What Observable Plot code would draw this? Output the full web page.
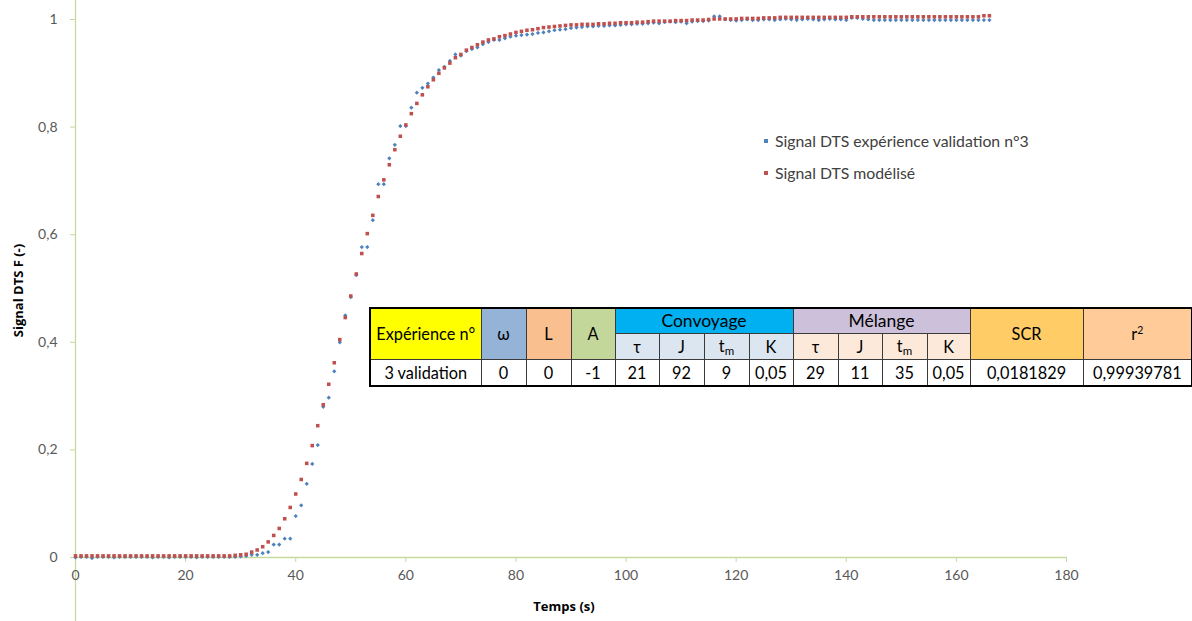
<!DOCTYPE html>
<html><head><meta charset="utf-8">
<script src="https://cdn.jsdelivr.net/npm/d3@7"></script>
<script src="https://cdn.jsdelivr.net/npm/@observablehq/plot@0.6"></script>
<style>
body{margin:0;background:#fff;}
#wrap{position:relative;width:1192px;height:621px;overflow:hidden;font-family:"Lato","Liberation Sans",sans-serif;}
#legend{position:absolute;left:762px;top:128px;font-size:15.8px;color:#404040;}
.li{position:relative;height:32px;line-height:26px;padding-left:13px;white-space:nowrap;}
.mk{position:absolute;left:2px;top:11px;width:4px;height:4px;}
#tbl{position:absolute;left:369px;top:307px;border-collapse:collapse;table-layout:fixed;width:823px;font-size:16.3px;color:#000;border:2px solid #000;}
#tbl td{border:1px solid #3a3a3a;padding:0;text-align:center;vertical-align:middle;white-space:nowrap;overflow:hidden;}
#tbl sub{font-size:11.5px;vertical-align:-3px;}
#tbl sup{font-size:10.5px;vertical-align:6px;}
</style></head>
<body><div id="wrap"></div>
<script>
// ---- data ----
const times = d3.range(0, 167);
const signalExp = [
 0.000,0.001,0.001,-0.001,0.001,0.001,0.001,0.000,0.001,0.001,
 0.001,0.001,0.001,0.001,0.000,0.001,0.001,0.000,0.001,0.001,
 0.001,0.001,0.000,0.001,0.001,0.001,0.001,0.001,0.001,0.001,
 0.002,0.003,0.005,0.005,0.008,0.010,0.024,0.024,0.035,0.035,
 0.077,0.097,0.137,0.174,0.209,0.280,0.297,0.346,0.400,0.450,
 0.484,0.525,0.577,0.577,0.627,0.694,0.694,0.742,0.767,0.802,
 0.802,0.836,0.864,0.873,0.881,0.892,0.906,0.912,0.923,0.935,
 0.933,0.941,0.945,0.948,0.954,0.958,0.962,0.962,0.965,0.968,
 0.970,0.971,0.972,0.973,0.975,0.976,0.978,0.980,0.981,0.982,
 0.984,0.985,0.986,0.987,0.987,0.988,0.988,0.989,0.989,0.990,
 0.991,0.991,0.992,0.992,0.993,0.994,0.993,0.995,0.996,0.995,
 0.996,0.993,0.996,0.997,0.997,0.998,1.006,1.006,1.000,0.999,
 0.998,0.999,1.000,0.999,0.999,1.000,1.000,0.999,1.000,1.001,
 1.000,0.999,1.000,1.001,1.000,0.999,1.000,1.001,1.000,1.000,
 0.999,1.003,1.003,1.001,1.000,0.999,0.999,0.999,0.999,0.999,
 0.999,0.999,0.999,0.999,0.999,0.999,0.999,0.999,0.999,0.999,
 0.999,0.999,0.999,0.999,0.999,0.999,0.999
];
const signalModel = [
 0.003,0.003,0.003,0.003,0.003,0.003,0.003,0.003,0.003,0.003,
 0.003,0.003,0.003,0.003,0.003,0.003,0.003,0.003,0.003,0.003,
 0.003,0.003,0.003,0.003,0.003,0.003,0.003,0.003,0.003,0.004,
 0.005,0.006,0.010,0.014,0.020,0.029,0.041,0.054,0.072,0.093,
 0.118,0.145,0.175,0.208,0.245,0.284,0.322,0.362,0.405,0.446,
 0.486,0.527,0.565,0.602,0.636,0.671,0.702,0.730,0.758,0.783,
 0.804,0.825,0.844,0.860,0.875,0.888,0.900,0.910,0.919,0.929,
 0.935,0.943,0.948,0.953,0.958,0.962,0.964,0.968,0.970,0.973,
 0.976,0.978,0.980,0.981,0.983,0.985,0.986,0.987,0.988,0.989,
 0.990,0.990,0.991,0.991,0.991,0.992,0.992,0.993,0.993,0.994,
 0.994,0.994,0.995,0.995,0.996,0.997,0.997,0.997,0.997,0.998,
 0.998,0.998,0.999,0.999,0.999,1.000,1.001,1.001,1.001,1.001,
 1.001,1.002,1.002,1.002,1.002,1.003,1.003,1.003,1.004,1.004,
 1.004,1.004,1.004,1.004,1.004,1.004,1.004,1.004,1.004,1.004,
 1.004,1.005,1.005,1.005,1.005,1.005,1.005,1.005,1.005,1.005,
 1.005,1.005,1.005,1.005,1.005,1.005,1.005,1.005,1.005,1.005,
 1.005,1.005,1.005,1.005,1.005,1.007,1.007
];
const xTicks = [0,20,40,60,80,100,120,140,160,180];
const yTicks = [0,0.2,0.4,0.6,0.8,1];
const seriesNames = ["Signal DTS expérience validation n°3","Signal DTS modélisé"];
const seriesColors = ["#4F81BD","#C0504D"];
const xTitle = "Temps (s)";
const yTitle = "Signal DTS F (-)";
// table
const expHeader = "Expérience n°";
const expValue = "3 validation";
const paramHeaders = ["ω","L","A"];
const paramColors = ["#95B3D7","#FABF8F","#C4D79B"];
const paramValues = ["0","0","-1"];
const groupNames = ["Convoyage","Mélange"];
const groupColors = ["#00B0F0","#CCC0DA"];
const groupSubColors = ["#DCE6F1","#FDE9D9"];
const subHeaders = ["τ","J","t<sub>m</sub>","K"];
const convValues = ["21","92","9","0,05"];
const melValues = ["29","11","35","0,05"];
const scrHeader = "SCR", scrValue = "0,0181829";
const r2Header = "r<sup>2</sup>", r2Value = "0,99939781";
const colWidths = [111,45,45,44,44,45,45,44,45,44,45,43,113,109];

// ---- chart ----
const expData = times.map((t,i)=>({t, v: signalExp[i]}));
const modData = times.map((t,i)=>({t, v: signalModel[i]}));
const axisGreen = "#c6da9f";
const fmt = d => String(d).replace(".", ",");

const chart = Plot.plot({
  width: 1192, height: 621,
  marginLeft: 75, marginRight: 126, marginTop: 19, marginBottom: 64,
  style: {fontFamily: '"Lato","Liberation Sans",sans-serif', fontSize: "14px", color: "#595959", background: "#fff"},
  x: {domain: [0,180]},
  y: {domain: [0,1]},
  marks: [
    Plot.ruleY([0], {stroke: axisGreen, strokeWidth: 1.3}),
    Plot.ruleX([0], {stroke: axisGreen, strokeWidth: 1.3, insetTop: -19, insetBottom: -64}),
    Plot.axisX({ticks: xTicks, tickSize: 5, tickPadding: 8, stroke: axisGreen, tickFormat: fmt, label: null, fill: "#595959"}),
    Plot.axisY({ticks: yTicks, tickSize: 5, tickPadding: 13, stroke: axisGreen, tickFormat: fmt, label: null, fill: "#595959"}),
    Plot.dot(expData, {x: "t", y: "v", symbol: "diamond2", r: 1.9, fill: seriesColors[0], stroke: "none"}),
    Plot.dot(modData, {x: "t", y: "v", symbol: "square", r: 2, fill: seriesColors[1], stroke: "none"}),
    Plot.text([xTitle], {frameAnchor: "bottom", textAnchor: "middle", dx: -7, dy: 49, fontWeight: "bold", fontSize: 13, fontFamily: '"Open Sans",sans-serif', fill: "#000", lineAnchor: "middle"}),
    Plot.text([yTitle], {frameAnchor: "left", textAnchor: "middle", rotate: -90, dx: -57, dy: 2, fontWeight: "bold", fontSize: 13, fontFamily: '"Open Sans",sans-serif', fill: "#000", lineAnchor: "middle"})
  ]
});
const wrap = document.getElementById("wrap");
wrap.appendChild(chart);

// legend
const leg = document.createElement("div");
leg.id = "legend";
leg.innerHTML = seriesNames.map((n,i)=>`<div class="li"><span class="mk" style="background:${seriesColors[i]}"></span>${n}</div>`).join("");
wrap.appendChild(leg);

// table
const tbl = document.createElement("table");
tbl.id = "tbl";
let h = "<colgroup>" + colWidths.map(w=>`<col style="width:${w}px">`).join("") + "</colgroup>";
h += `<tr style="height:25px"><td rowspan="2" style="background:#FFFF00">${expHeader}</td>`;
h += paramHeaders.map((p,i)=>`<td rowspan="2" style="background:${paramColors[i]}">${p}</td>`).join("");
h += groupNames.map((g,i)=>`<td colspan="4" style="background:${groupColors[i]};font-size:17.5px">${g}</td>`).join("");
h += `<td rowspan="2" style="background:#FFCC66">${scrHeader}</td><td rowspan="2" style="background:#FFCC99">${r2Header}</td></tr>`;
h += `<tr style="height:26px">` + groupNames.map((g,i)=>subHeaders.map(s=>`<td style="background:${groupSubColors[i]}">${s}</td>`).join("")).join("") + "</tr>";
h += `<tr style="height:27px"><td>${expValue}</td>` + paramValues.map(v=>`<td>${v}</td>`).join("") + convValues.map(v=>`<td>${v}</td>`).join("") + melValues.map(v=>`<td>${v}</td>`).join("") + `<td>${scrValue}</td><td>${r2Value}</td></tr>`;
tbl.innerHTML = h;
wrap.appendChild(tbl);
</script>
</body></html>
